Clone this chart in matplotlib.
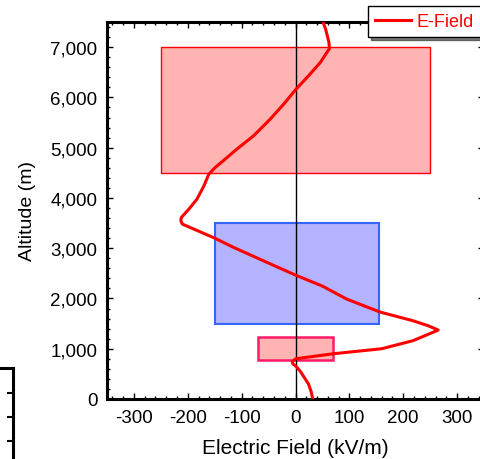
import matplotlib
matplotlib.use("Agg")
import matplotlib.pyplot as plt
from matplotlib.patches import Rectangle
from matplotlib.ticker import MultipleLocator, FuncFormatter

plt.rcParams['font.family'] = ['Liberation Sans', 'DejaVu Sans']
plt.rcParams['axes.unicode_minus'] = False

# E-field profile (kV/m) vs altitude (m)
altitude = [0, 150, 300, 450, 550, 650, 700, 740, 800, 900, 1000, 1160, 1326, 1372,
            1458, 1557, 1730, 1988, 2246, 2465, 2718, 3016, 3195, 3479, 3545, 3612,
            3777, 3976, 4241, 4473, 4606, 4805, 4970, 5235, 5567, 5865, 6163, 6428,
            6693, 6972, 7100, 7356, 7500]
efield = [32, 29, 24, 15, 9, 1, -5, -6, 0, 70, 160, 218, 255, 265,
          246, 218, 157, 95, 50, 0, -53, -115, -149, -210, -213, -212,
          -198, -183, -170, -161, -149, -127, -109, -78, -47, -22, 1, 24,
          46, 63, 62, 56, 51]

# Shaded regions: (x0, x1, y0, y1)
region_x0 = [-250, -150, -70]
region_x1 = [250, 155, 70]
region_y0 = [4500, 1500, 780]
region_y1 = [7000, 3500, 1240]
region_fill = ['#ffb3b3', '#b3b3ff', '#ffb3b3']
region_edge = ['#ff0000', '#3366ff', '#ff1a66']
region_lw = [1.0, 1.5, 1.8]

fig = plt.figure(figsize=(4.8, 4.6), dpi=100)
ax = fig.add_axes([107/480, 1-400/460, (484-107)/480, 377/460])

for x0, x1, y0, y1, fc, ec, lw in zip(region_x0, region_x1, region_y0, region_y1,
                                        region_fill, region_edge, region_lw):
    ax.add_patch(Rectangle((x0, y0), x1-x0, y1-y0, facecolor=fc, edgecolor=ec,
                           linewidth=lw, zorder=1))

ax.axvline(0, color='black', linewidth=1.0, zorder=2)
ax.plot(efield, altitude, color='red', linewidth=2.2, label='E-Field', zorder=3,
        solid_joinstyle='round')

ax.set_xlim(-350, 350)
ax.set_ylim(0, 7500)
ax.xaxis.set_major_locator(MultipleLocator(100))
ax.xaxis.set_minor_locator(MultipleLocator(20))
ax.yaxis.set_major_locator(MultipleLocator(1000))
ax.yaxis.set_minor_locator(MultipleLocator(200))
ax.yaxis.set_major_formatter(FuncFormatter(lambda v, p: f"{int(v):,}"))
ax.xaxis.set_major_formatter(FuncFormatter(lambda v, p: f"{int(v)}"))

ax.tick_params(which='both', direction='in', top=True, right=True, width=1.0)
ax.tick_params(which='major', length=4.5, labelsize=13.5)
ax.tick_params(axis='x', which='major', pad=7)
ax.tick_params(axis='y', which='major', pad=7)
ax.tick_params(which='minor', length=2.3)
for s in ax.spines.values():
    s.set_linewidth(2.2)

ax.set_xlabel('Electric Field (kV/m)', fontsize=15, labelpad=9)
ax.set_ylabel('Altitude (m)', fontsize=14, labelpad=10)

leg = fig.legend(loc='upper left', bbox_to_anchor=(368/480, 1-7/460), fontsize=13,
                 frameon=True, fancybox=False, shadow={'color': 'black'},
                 edgecolor='black', handlelength=2.0, handletextpad=0.3,
                 borderpad=0.4, borderaxespad=0)
leg.get_frame().set_linewidth(1.0)
for t in leg.get_texts():
    t.set_color('red')

# partial neighbouring frame at bottom-left
ax2 = fig.add_axes([-100/480, 0, 113/480, 91/460])
ax2.set_xlim(0, 1)
ax2.set_ylim(0, 91)
for k in ['left', 'bottom']:
    ax2.spines[k].set_visible(False)
for k in ['top', 'right']:
    ax2.spines[k].set_linewidth(2.2)
ax2.set_xticks([])
ax2.yaxis.tick_right()
ax2.set_yticks([18, 42, 66])
ax2.tick_params(axis='y', direction='in', length=4.5, width=1.5, labelright=False)
ax2.patch.set_alpha(0)

fig.savefig('out.png', dpi=100)
